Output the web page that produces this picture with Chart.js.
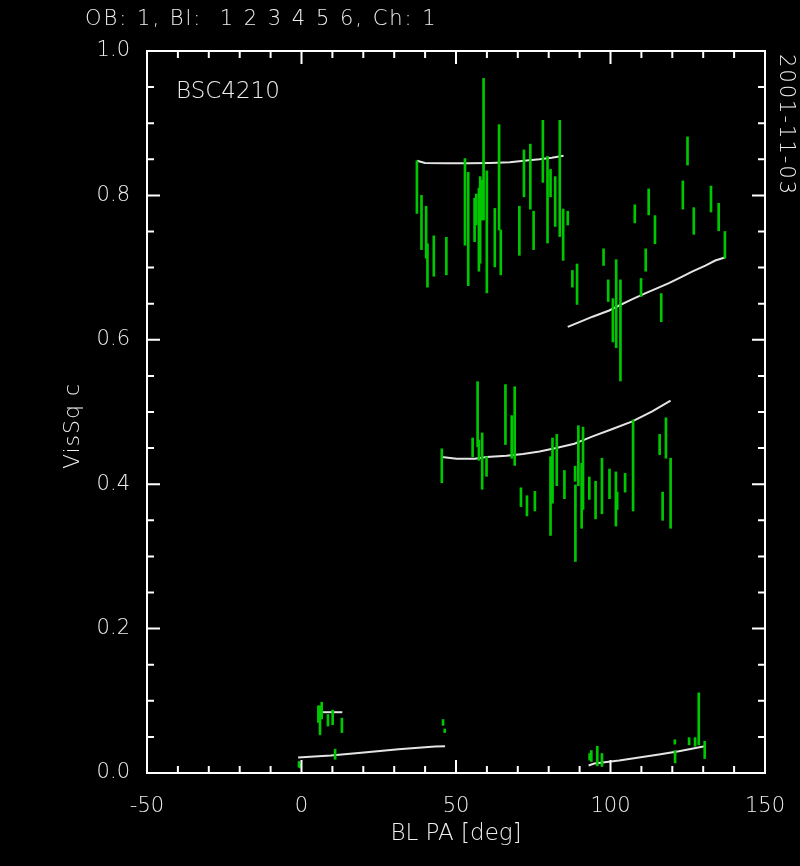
<!DOCTYPE html>
<html>
<head>
<meta charset="utf-8">
<script src="https://cdn.jsdelivr.net/npm/chart.js@4/dist/chart.umd.min.js"></script>
<style>
  html, body { margin: 0; padding: 0; background: #000; }
  #wrap { width: 800px; height: 866px; }
</style>
</head>
<body>
<div id="wrap"><canvas id="visChart" width="800" height="866"></canvas></div>
<script>
// measured squared visibilities (error bars), grouped by cluster
var upPA = [37.35, 38.83, 40.34, 40.76, 42.82, 46.88, 52.90, 53.96, 56.02, 56.54, 57.41, 57.82, 58.37, 58.92, 59.98, 62.56,
            63.94, 64.49, 70.51, 71.99, 74.05, 75.11, 78.11, 79.62, 80.59, 82.10, 83.58, 84.68, 86.16, 87.67, 89.18];
var upLo = [0.775, 0.725, 0.713, 0.673, 0.688, 0.690, 0.731, 0.675, 0.736, 0.759, 0.695, 0.706, 0.766, 0.766, 0.665, 0.701,
            0.752, 0.690, 0.717, 0.798, 0.781, 0.725, 0.818, 0.734, 0.798, 0.757, 0.743, 0.710, 0.759, 0.673, 0.649];
var upHi = [0.848, 0.800, 0.785, 0.733, 0.744, 0.742, 0.851, 0.832, 0.796, 0.802, 0.810, 0.826, 0.821, 0.962, 0.834, 0.782,
            0.898, 0.752, 0.785, 0.863, 0.871, 0.778, 0.904, 0.854, 0.836, 0.826, 0.904, 0.781, 0.778, 0.696, 0.705];

var urPA = [97.75, 99.26, 100.77, 101.84, 103.22, 107.86, 109.88, 111.40, 112.36, 114.39, 116.42, 123.41, 124.92, 126.95, 132.52, 135.0, 137.03];
var urLo = [0.703, 0.653, 0.597, 0.589, 0.543, 0.762, 0.660, 0.695, 0.773, 0.733, 0.625, 0.781, 0.842, 0.746, 0.777, 0.751, 0.713];
var urHi = [0.726, 0.683, 0.657, 0.711, 0.683, 0.787, 0.685, 0.726, 0.809, 0.772, 0.664, 0.820, 0.881, 0.783, 0.813, 0.789, 0.750];

var midPA = [45.40, 55.38, 56.99, 57.41, 58.47, 59.88, 66.0, 68.03, 69.0, 71.02, 72.96, 75.53, 80.59, 81.0, 81.23, 82.61, 85.09,
             88.54, 88.64, 89.6, 90.66, 91.11, 93.14, 95.17, 97.23, 99.68, 101.74, 102.16, 104.73, 107.31, 115.9, 116.87, 117.94, 119.45];
var midLo = [0.402, 0.438, 0.452, 0.433, 0.393, 0.411, 0.455, 0.436, 0.426, 0.369, 0.356, 0.363, 0.329, 0.374, 0.374, 0.398, 0.380,
             0.404, 0.293, 0.398, 0.339, 0.365, 0.379, 0.352, 0.359, 0.380, 0.342, 0.365, 0.389, 0.363, 0.441, 0.350, 0.436, 0.339];
var midHi = [0.449, 0.464, 0.542, 0.461, 0.471, 0.438, 0.538, 0.495, 0.535, 0.395, 0.384, 0.390, 0.438, 0.438, 0.464, 0.469, 0.419,
             0.425, 0.399, 0.481, 0.429, 0.479, 0.410, 0.404, 0.436, 0.421, 0.417, 0.389, 0.415, 0.489, 0.469, 0.389, 0.492, 0.436];

var lowPA = [-0.8, -0.4, 5.47, 5.99, 6.54, 8.56, 10.08, 13.07, 10.88, 45.81, 46.36,
             93.24, 93.79, 95.72, 97.23, 120.83, 120.9, 125.43, 127.37, 128.56, 130.49];
var lowLo = [0.008, 0.007, 0.070, 0.053, 0.075, 0.065, 0.067, 0.056, 0.019, 0.066, 0.056,
             0.018, 0.016, 0.010, 0.009, 0.040, 0.014, 0.039, 0.037, 0.039, 0.020];
var lowHi = [0.016, 0.013, 0.093, 0.093, 0.098, 0.081, 0.087, 0.076, 0.033, 0.074, 0.061,
             0.027, 0.031, 0.037, 0.027, 0.046, 0.031, 0.049, 0.049, 0.111, 0.044];

// model curves
var m1PA = [37.35, 40, 47, 54, 61, 67.4, 72, 77, 81, 84.8];
var m1V  = [0.848, 0.845, 0.8445, 0.8445, 0.845, 0.846, 0.848, 0.850, 0.852, 0.855];
var m2PA = [86.16, 89.92, 94.2, 99.58, 102.8, 107.1, 111.4, 114.6, 118.9, 123.2, 126.4, 130.7, 133.9, 137.0];
var m2V  = [0.618, 0.6245, 0.632, 0.6406, 0.6475, 0.6563, 0.6646, 0.6706, 0.6785, 0.6876, 0.6945, 0.7028, 0.7098, 0.7139];
var m3PA = [45.4, 50.23, 56.12, 59.88, 66.32, 71.67, 77.04, 82.42, 88.31, 94.2, 100.64, 107.08, 113.5, 119.45];
var m3V  = [0.4377, 0.4353, 0.4353, 0.4377, 0.4394, 0.4418, 0.4454, 0.4501, 0.4561, 0.4662, 0.4764, 0.4869, 0.5008, 0.5156];
var m4PA = [5.67, 13.2];
var m4V  = [0.0842, 0.0842];
var m5PA = [-1.09, 9.43, 20.2, 31.4, 43.2, 46.46];
var m5V  = [0.0215, 0.0242, 0.0284, 0.033, 0.0367, 0.0371];
var m6PA = [92.92, 94.75, 102.8, 109.24, 115.68, 122.12, 130.49];
var m6V  = [0.0104, 0.0131, 0.0173, 0.0215, 0.0256, 0.0302, 0.0371];

// axis ticks
var xTicks = [-50, -40, -30, -20, -10, 0, 10, 20, 30, 40, 50, 60, 70, 80, 90, 100, 110, 120, 130, 140, 150];
var xMajor = [-50, 0, 50, 100, 150];
var yTicks = [0, 0.05, 0.1, 0.15, 0.2, 0.25, 0.3, 0.35, 0.4, 0.45, 0.5, 0.55, 0.6, 0.65, 0.7, 0.75, 0.8, 0.85, 0.9, 0.95, 1.0];
var yMajor = [0, 0.2, 0.4, 0.6, 0.8, 1.0];

var FONT = '"DejaVu Sans", sans-serif';

function bars(pa, lo, hi) {
    return pa.map((p, i) => ({ x: p, y: [lo[i], hi[i]] }));
}
function curve(pa, v) {
    return pa.map((p, i) => ({ x: p, y: v[i] }));
}
function isMajor(list, v) {
    return list.some(m => Math.abs(m - v) < 1e-6);
}

var errStyle = { type: 'bar', backgroundColor: '#00c800', barThickness: 2, grouped: false, borderWidth: 0 };
var modelStyle = { type: 'line', borderColor: '#e4e4e4', borderWidth: 2, pointRadius: 0, tension: 0, fill: false };

// box with inward ticks on all four sides, plus the free labels
var frame = {
    id: 'frame',
    afterDraw(chart) {
        var ctx = chart.ctx, a = chart.chartArea, x = chart.scales.x, y = chart.scales.y;
        ctx.save();
        ctx.strokeStyle = '#fff';
        ctx.lineWidth = 2;
        ctx.strokeRect(a.left, a.top, a.right - a.left, a.bottom - a.top);
        ctx.beginPath();
        xTicks.forEach(v => {
            var px = x.getPixelForValue(v), len = isMajor(xMajor, v) ? 13 : 7;
            ctx.moveTo(px, a.bottom); ctx.lineTo(px, a.bottom - len);
            ctx.moveTo(px, a.top); ctx.lineTo(px, a.top + len);
        });
        yTicks.forEach(v => {
            var py = y.getPixelForValue(v), len = isMajor(yMajor, v) ? 13 : 7;
            ctx.moveTo(a.left, py); ctx.lineTo(a.left + len, py);
            ctx.moveTo(a.right, py); ctx.lineTo(a.right - len, py);
        });
        ctx.stroke();

        ctx.fillStyle = '#eee';
        ctx.textBaseline = 'middle';
        ctx.font = '200 21px ' + FONT;
        ctx.textAlign = 'left';
        ctx.letterSpacing = '2px';
        ctx.fillText('OB: 1, Bl:  1 2 3 4 5 6, Ch: 1', 85, 20);
        ctx.font = '200 23px ' + FONT;
        ctx.letterSpacing = '0px';
        ctx.fillText('BSC4210', 176, 92);

        ctx.save();
        ctx.translate(785, 54);
        ctx.rotate(Math.PI / 2);
        ctx.font = '200 21px ' + FONT;
        ctx.letterSpacing = '2px';
        ctx.fillText('2001-11-03', 0, 0);
        ctx.restore();

        ctx.save();
        ctx.translate(73, 426);
        ctx.rotate(-Math.PI / 2);
        ctx.textAlign = 'center';
        ctx.font = '200 22px ' + FONT;
        ctx.letterSpacing = '1px';
        ctx.fillText('VisSq c', 0, 0);
        ctx.restore();
        ctx.restore();
    }
};

document.addEventListener("DOMContentLoaded", function () {
    Chart.defaults.font.family = FONT;
    Chart.defaults.font.weight = '200';
    Chart.defaults.color = '#eee';

    var ctx = document.getElementById('visChart').getContext('2d');
    new Chart(ctx, {
        type: 'bar',
        data: {
            datasets: [
                Object.assign({ data: bars(upPA, upLo, upHi) }, errStyle),
                Object.assign({ data: bars(urPA, urLo, urHi) }, errStyle),
                Object.assign({ data: bars(midPA, midLo, midHi) }, errStyle),
                Object.assign({ data: bars(lowPA, lowLo, lowHi) }, errStyle),
                Object.assign({ data: curve(m1PA, m1V) }, modelStyle),
                Object.assign({ data: curve(m2PA, m2V) }, modelStyle),
                Object.assign({ data: curve(m3PA, m3V) }, modelStyle),
                Object.assign({ data: curve(m4PA, m4V) }, modelStyle),
                Object.assign({ data: curve(m5PA, m5V) }, modelStyle),
                Object.assign({ data: curve(m6PA, m6V) }, modelStyle)
            ]
        },
        options: {
            responsive: false,
            animation: false,
            layout: { padding: { top: 51, right: 35, left: 0, bottom: 0 } },
            scales: {
                x: {
                    type: 'linear',
                    min: -50,
                    max: 150,
                    offset: false,
                    grid: { display: false, offset: false },
                    border: { display: false },
                    afterBuildTicks: s => { s.ticks = xTicks.map(v => ({ value: v })); },
                    afterFit: s => { s.height = 93; },
                    ticks: {
                        autoSkip: false,
                        maxRotation: 0,
                        padding: 13,
                        font: { size: 21 },
                        callback: v => isMajor(xMajor, v) ? String(v) : ''
                    },
                    title: { display: true, text: 'BL PA [deg]', font: { size: 23 }, padding: { top: 0, bottom: 18 } }
                },
                y: {
                    min: 0,
                    max: 1,
                    grid: { display: false },
                    border: { display: false },
                    afterBuildTicks: s => { s.ticks = yTicks.map(v => ({ value: v })); },
                    afterFit: s => { s.width = 147; },
                    ticks: {
                        autoSkip: false,
                        padding: 9,
                        font: { size: 21 },
                        callback: v => isMajor(yMajor, v) ? v.toFixed(1) : ''
                    }
                }
            },
            plugins: {
                legend: { display: false },
                tooltip: { enabled: false }
            }
        },
        plugins: [frame]
    });
});
</script>
</body>
</html>
